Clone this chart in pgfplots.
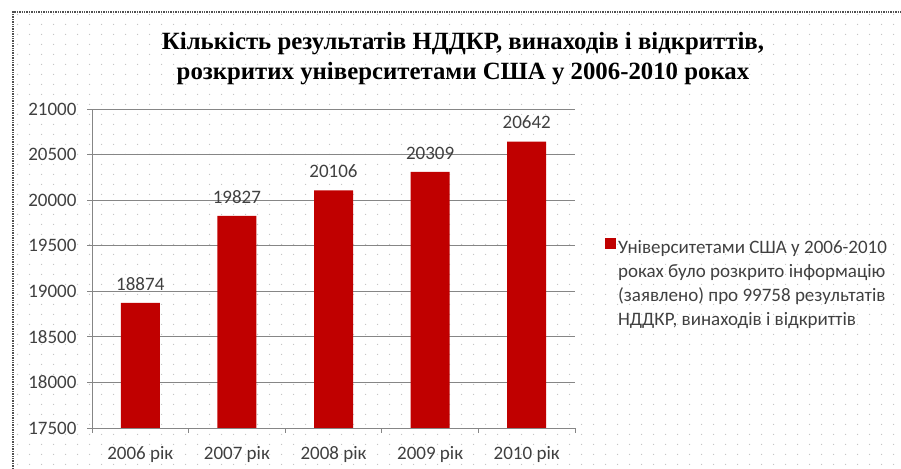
\documentclass[border=0pt]{standalone}
\usepackage{pgfplots}
\pgfplotsset{compat=1.18}
\usepackage{fontspec}
\setmainfont{Carlito}
\newfontfamily\titlefont{Liberation Serif}
\usetikzlibrary{patterns.meta}

\definecolor{barred}{RGB}{192,0,0}
\definecolor{axgray}{RGB}{134,134,134}
\definecolor{txtgray}{RGB}{64,64,64}

% faint dot grid of the chart area
\tikzdeclarepattern{name=bgdots, type=uncolored,
  bottom left={(0bp,0bp)}, top right={(12bp,10bp)}, tile size={(12bp,10bp)},
  code={\fill (6bp,5bp) circle (0.8bp);}}

\newcommand{\lbl}{\fontsize{19bp}{24bp}\selectfont}

\begin{document}
\begin{tikzpicture}[x=1bp,y=1bp]
  \path[use as bounding box] (0,0) rectangle (901,469);
  \fill[pattern=bgdots, pattern color=gray!45] (13,0) rectangle (901,457);
  \draw[axgray!60!black, line width=1.6bp, dash pattern=on 1.4bp off 1bp]
    (13,0) -- (13,457) -- (901,457);

  \node[anchor=base, font=\titlefont\bfseries\fontsize{24.8bp}{30bp}\selectfont]
    at (463,419) {Кількість результатів НДДКР, винаходів і відкриттів,};
  \node[anchor=base, font=\titlefont\bfseries\fontsize{24.8bp}{30bp}\selectfont]
    at (463,389) {розкритих університетами США у 2006-2010 роках};

  \begin{axis}[
    at={(92bp,41bp)}, anchor=south west,
    scale only axis, width=483bp, height=319bp,
    ybar, bar width=39bp,
    xmin=-0.5, xmax=4.5,
    ymin=17500, ymax=21000,
    % short ticks between the categories, names under the bars
    xtick={-0.5,0.5,...,4.5}, xticklabels={},
    extra x ticks={0,1,2,3,4},
    extra x tick labels={2006 рік,2007 рік,2008 рік,2009 рік,2010 рік},
    extra x tick style={major tick length=0pt, tick style={draw=none},
      xticklabel style={yshift=-15bp}},
    ytick={17500,18000,...,21000},
    axis x line*=bottom, axis y line*=left,
    axis line style={axgray, line width=0.8bp},
    tick style={axgray, line width=0.8bp},
    tick align=outside, major tick length=5bp,
    ymajorgrids, grid style={axgray, line width=0.8bp},
    scaled y ticks=false,
    /pgf/number format/.cd, 1000 sep={}, assume math mode=true, /pgfplots/.cd,
    tick label style={font=\lbl, text=txtgray},
    yticklabel style={xshift=-7bp},
    nodes near coords,
    nodes near coords style={font=\lbl, text=txtgray, yshift=9bp},
    legend style={at={(1.062,0.605)}, anchor=north west, draw=none, fill=none,
      font=\lbl, text=txtgray, inner sep=0pt},
    legend image code/.code={\fill[barred] (0bp,-3bp) rectangle (11bp,8bp);},
  ]
    \addplot[fill=barred, draw=none] coordinates {
      (0,18874) (1,19827) (2,20106) (3,20309) (4,20642)
    };
    \addlegendentry{\begin{tabular}[t]{@{}l@{}}Університетами США у 2006-2010\\роках було розкрито інформацію\\(заявлено) про 99758 результатів\\НДДКР, винаходів і відкриттів\end{tabular}}
  \end{axis}
\end{tikzpicture}
\end{document}
